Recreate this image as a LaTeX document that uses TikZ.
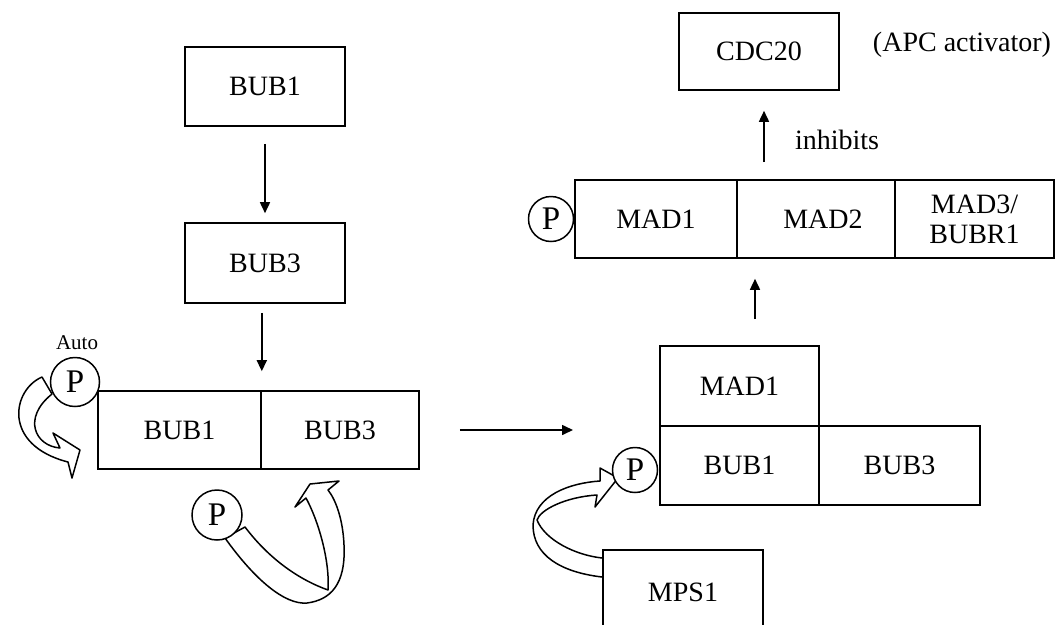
\documentclass[tikz,border=0pt]{standalone}
\usepackage{fontspec}
\setmainfont{Liberation Serif}
\usetikzlibrary{arrows.meta}
\begin{document}
\begin{tikzpicture}[x=1pt,y=-1pt,
  box/.style={draw, line width=1.6pt, fill=white, inner sep=0pt, align=center, font=\fontsize{28}{30}\selectfont},
  pcirc/.style={circle, draw, line width=1.5pt, fill=white, inner sep=0pt, font=\fontsize{33}{34}\selectfont},
  lbl/.style={font=\fontsize{28}{30}\selectfont},
  arr/.style={line width=1.6pt, -{Triangle[length=11pt,width=10pt]}},
  fat/.style={draw, line width=1.5pt, fill=white, line join=round}]
\clip (0,0) rectangle (1056,624);
\fill[white] (0,0) rectangle (1056,624);

% fat curved arrows (drawn first, covered by circles and boxes)
\draw[fat] (42,377) .. controls (12,390) and (2,445) .. (68,462) -- (72,478) -- (80,450) -- (53,433) -- (60,448)
  .. controls (35,446) and (22,418) .. (52,394) -- cycle;
\draw[fat] (225,538) .. controls (255,580) and (285,605) .. (307,603) .. controls (330,600) and (346,585) .. (344,545)
  .. controls (343,520) and (336,500) .. (328,490) -- (339,481) -- (310,484) -- (295,507) -- (306,498)
  .. controls (318,520) and (330,560) .. (328,590) .. controls (300,580) and (270,560) .. (245,527) -- cycle;
\draw[fat] (602,577) .. controls (560,572) and (533,555) .. (533,525) .. controls (535,495) and (570,483) .. (600,481)
  -- (600,468) -- (618,478) -- (595,507) -- (597,495) .. controls (565,497) and (540,510) .. (537,520)
  .. controls (545,540) and (575,555) .. (602,558);

% left column
\node[box, minimum width=160pt, minimum height=79pt] (b1) at (265,86.5) {BUB1};
\node[box, minimum width=160pt, minimum height=80pt] (b3) at (265,263) {BUB3};
\node[box, minimum width=163pt, minimum height=78pt] (cb1) at (179.5,430) {BUB1};
\node[box, minimum width=158pt, minimum height=78pt] (cb3) at (340,430) {BUB3};
\node[pcirc, minimum size=49pt] (pa) at (75,382) {P};
\node[font=\fontsize{21}{22}\selectfont] (auto) at (77,343) {Auto};
\node[pcirc, minimum size=50pt] (pb) at (217,515) {P};

\draw[arr, shorten <=17pt, shorten >=9pt] (b1.south) -- (b3.north);
\draw[arr, shorten <=9pt, shorten >=19pt] (b3.south -| cb1.north east) -- (cb1.north east);
\draw[arr, shorten <=40pt, shorten >=87pt] (cb3.east) -- (cb3.east -| 660,0);

% lower right complex
\node[box, minimum width=159pt, minimum height=80pt] (m1l) at (739.5,386) {MAD1};
\node[box, minimum width=159pt, minimum height=79pt] (b1l) at (739.5,465.5) {BUB1};
\node[box, minimum width=161pt, minimum height=79pt] (b3l) at (899.5,465.5) {BUB3};
\node[pcirc, minimum size=45pt] (pm) at (635,470) {P};
\node[box, minimum width=160pt, minimum height=84pt] (mps) at (683,592) {MPS1};

% upper right complex
\node[box, minimum width=162pt, minimum height=78pt] (m1u) at (656,219) {MAD1};
\node[box, minimum width=158pt, minimum height=78pt] (m2u) at (816,219) {\hspace*{14pt}MAD2};
\node[box, minimum width=159pt, minimum height=78pt] (m3u) at (974.5,219) {MAD3/\\BUBR1};
\node[pcirc, minimum size=45pt] (pu) at (551,219) {P};

\node[box, minimum width=160pt, minimum height=77pt] (cdc) at (759,51.5) {CDC20};
\node[lbl] (apc) at (962,45) {(APC activator)};
\node[lbl] (inh) at (837,140) {inhibits};

\draw[arr, shorten <=26pt, shorten >=20pt] ([xshift=15.5pt]m1l.north) -- ([xshift=15.5pt]m1l.north |- m1u.south);
\draw[arr, shorten <=17pt, shorten >=20pt] ([xshift=5pt]cdc.south |- m2u.north) -- ([xshift=5pt]cdc.south);
\end{tikzpicture}
\end{document}
